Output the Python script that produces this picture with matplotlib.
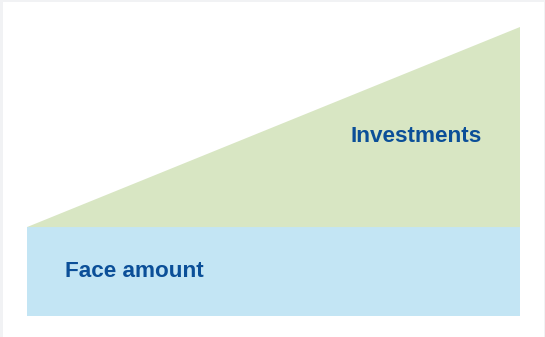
import numpy as np
import matplotlib.pyplot as plt
from matplotlib.patches import Rectangle

# time axis (start -> end), amounts in units of the face amount
t = [0, 1]
face = [1, 1]
investments = [0, 2.25]
labels = ["Face amount", "Investments"]
colors = ["#c3e5f4", "#d8e6c3"]
text_color = "#0b4f98"

fig = plt.figure(figsize=(5.45, 3.37), dpi=100, facecolor="#f1f2f4")
fig.patches.append(Rectangle((3 / 545, 0), 541 / 545, 335 / 337,
                             transform=fig.transFigure, facecolor="white",
                             edgecolor="none", zorder=-10))

ax = fig.add_axes([27 / 545, 21 / 337, 493 / 545, 289 / 337])
ax.stackplot(t, face, investments, colors=colors, linewidth=0)
ax.set_xlim(t[0], t[-1])
ax.set_ylim(0, face[-1] + investments[-1])
ax.axis("off")

font = dict(family=["Liberation Sans", "DejaVu Sans"], fontweight="bold",
            fontsize=16.2, color=text_color)
ax.text(0.077, 0.50, labels[0], ha="left", va="center", **font)
ax.text(0.923, 2.02, labels[1], ha="right", va="center", **font)

fig.savefig("out.png", dpi=100, facecolor=fig.get_facecolor())
